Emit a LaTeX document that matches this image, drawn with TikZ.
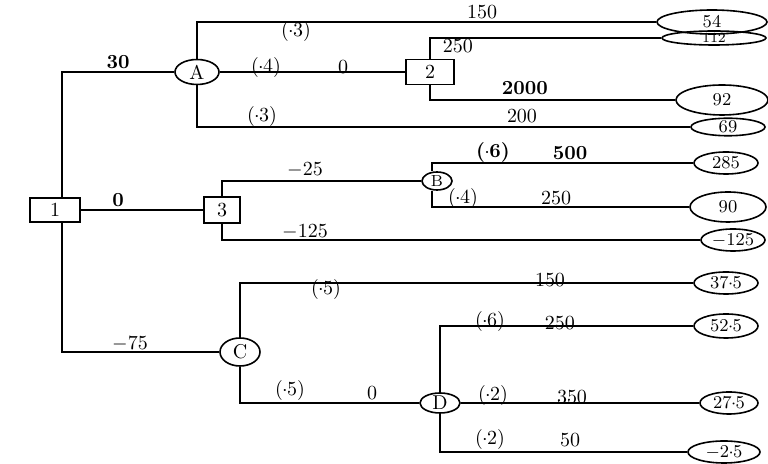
\documentclass[tikz,border=0pt]{standalone}
\usetikzlibrary{shapes.geometric}
\newcommand{\pdot}{\kern-0.03em${\cdot}$\kern-0.03em}
\tikzset{
decision_box/.style={rectangle, draw, line width=0.8pt, minimum width=24pt, minimum height=12pt, inner sep=1pt},
chance_node/.style={ellipse, draw, line width=0.8pt, minimum width=20pt, minimum height=12pt, inner sep=0pt},
payoff_node/.style={ellipse, draw, line width=0.8pt, minimum width=32pt, minimum height=11pt, inner sep=0pt, font=\small},
branch_label/.style={inner sep=1pt, font=\normalsize},
branch/.style={line width=0.8pt}
}

\begin{document}
\begin{tikzpicture}[x=0.5pt, y=-0.5pt]
    \useasboundingbox (0,0) rectangle (768,464);

    \node[decision_box, minimum width=25pt] (d1) at (55,210) {1};
    \node[chance_node, minimum width=22pt, minimum height=12.5pt] (A) at (197,72) {A};
    \node[decision_box, minimum height=12.5pt] (d2) at (430,72) {2};
    \node[decision_box, minimum width=18pt, minimum height=13pt] (d3) at (222,210) {3};
    \node[chance_node, minimum width=15pt, minimum height=9pt, font=\footnotesize] (B) at (437,181) {B};
    \node[chance_node, minimum height=14pt] (C) at (240,352) {C};
    \node[chance_node, minimum height=10pt] (D) at (440,403) {D};

    \node[payoff_node, minimum width=55pt, minimum height=12pt] (t54) at (712,22) {54};
    \node[payoff_node, minimum width=52pt, minimum height=7pt, font=\scriptsize] (t112) at (714,38) {112};
    \node[payoff_node, minimum width=46pt, minimum height=15pt] (t92) at (722,100) {92};
    \node[payoff_node, minimum width=37pt, minimum height=8pt] (t69) at (728,127) {69};
    \node[payoff_node] (t285) at (726,163) {285};
    \node[payoff_node, minimum width=38pt, minimum height=15pt] (t90) at (728,207) {90};
    \node[payoff_node] (tm125) at (733,240) {$-$125};
    \node[payoff_node] (t375) at (726,283) {37\pdot5};
    \node[payoff_node, minimum height=12pt] (t525) at (726,326) {52\pdot5};
    \node[payoff_node, minimum width=29pt] (t275) at (729,403) {27\pdot5};
    \node[payoff_node, minimum width=36pt] (tm25) at (724,452) {$-$2\pdot5};

    \draw[branch] ([xshift=3.5pt]d1.north) |- (A);
    \draw[branch] (d1) -- (d3);
    \draw[branch] ([xshift=3.5pt]d1.south) |- (C);
    \draw[branch] (A) |- (t54);
    \draw[branch] (A) -- (d2);
    \draw[branch] (A) |- (t69);
    \draw[branch] (d2) |- (t112);
    \draw[branch] (d2) |- (t92);
    \draw[branch] (d3) |- (B);
    \draw[branch] (d3) |- (tm125);
    \draw[branch] ([xshift=-2.5pt]B.north) |- (t285);
    \draw[branch] ([xshift=-2.5pt]B.south) |- (t90);
    \draw[branch] (C) |- (t375);
    \draw[branch] (C) |- (D);
    \draw[branch] (D) |- (t525);
    \draw[branch] (D) -- (t275);
    \draw[branch] (D) |- (tm25);

    \node[branch_label, font=\normalsize\bfseries] (l30) at (118,62) {30};
    \node[branch_label, font=\normalsize\bfseries] (l0) at (118,200) {0};
    \node[branch_label] (lm75) at (130,344) {$-$75};
    \node[branch_label] (pa1) at (296,32) {(\pdot3)};
    \node[branch_label] (va1) at (482,12) {150};
    \node[branch_label] (pa2) at (266,68) {(\pdot4)};
    \node[branch_label] (va2) at (343,67) {0};
    \node[branch_label] (v250) at (458,46) {250};
    \node[branch_label, font=\normalsize\bfseries] (v2000) at (525,88) {2000};
    \node[branch_label] (pa3) at (262,117) {(\pdot3)};
    \node[branch_label] (va3) at (522,116) {200};
    \node[branch_label] (lm25) at (305,170) {$-$25};
    \node[branch_label] (lm125) at (305,232) {$-$125};
    \node[branch_label, font=\normalsize\bfseries] (pb1) at (493,152) {(\pdot6)};
    \node[branch_label, font=\normalsize\bfseries] (vb1) at (570,153) {500};
    \node[branch_label] (pb2) at (463,199) {(\pdot4)};
    \node[branch_label] (vb2) at (556,198) {250};
    \node[branch_label] (pc1) at (326,290) {(\pdot5)};
    \node[branch_label] (vc1) at (550,280) {150};
    \node[branch_label] (pc2) at (290,391) {(\pdot5)};
    \node[branch_label] (vc2) at (372,393) {0};
    \node[branch_label] (pd1) at (490,322) {(\pdot6)};
    \node[branch_label] (vd1) at (560,323) {250};
    \node[branch_label] (pd2) at (493,396) {(\pdot2)};
    \node[branch_label] (vd2) at (572,397) {350};
    \node[branch_label] (pd3) at (490,440) {(\pdot2)};
    \node[branch_label] (vd3) at (570,440) {50};
\end{tikzpicture}
\end{document}
